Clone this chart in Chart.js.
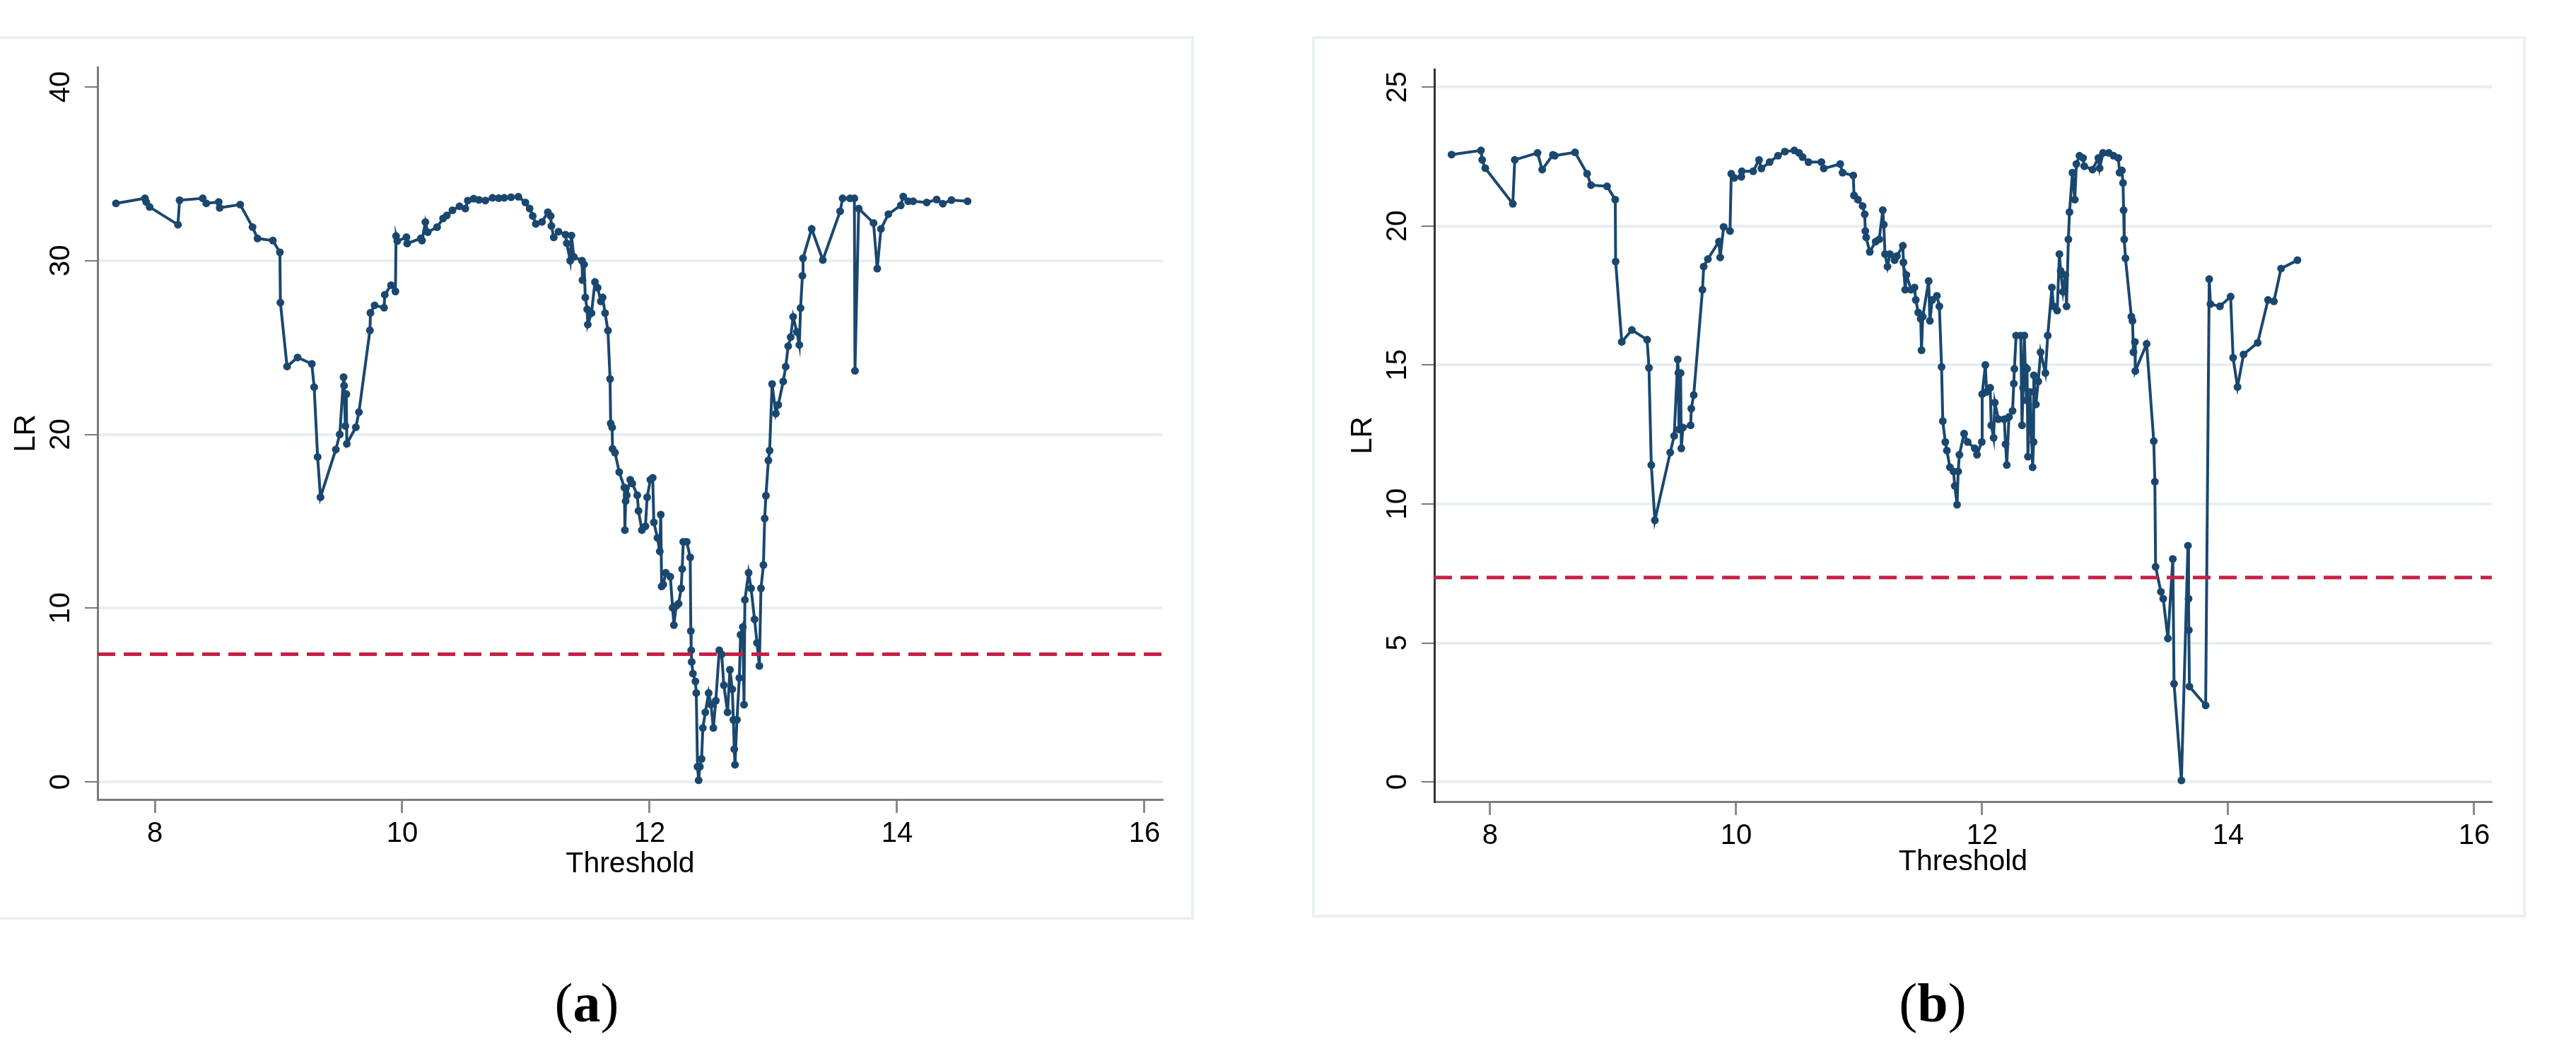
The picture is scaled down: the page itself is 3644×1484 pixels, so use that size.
<!DOCTYPE html>
<html>
<head>
<meta charset="utf-8">
<script src="https://cdn.jsdelivr.net/npm/chart.js@4.4.1/dist/chart.umd.min.js"></script>
<style>
  html, body { margin: 0; padding: 0; background: #fff; }
  body { position: relative; width: 3644px; height: 1484px; overflow: hidden; }
  .frame { position: absolute; border: 4px solid #e8f0f2; box-sizing: border-box; }
  canvas { position: absolute; }
  .tag { position: absolute; width: 240px; text-align: center; font-family: "Liberation Serif", "Times New Roman", serif; font-size: 78px; line-height: 78px; color: #000; }
  .tag b { font-weight: bold; }
</style>
</head>
<body>
<div class="frame" style="left:-33px; top:51px; width:1722px; height:1250px;"></div>
<div class="frame" style="left:1856px; top:51px; width:1717px; height:1247px;"></div>
<canvas id="chartA" width="1722" height="1249" style="left:-33px; top:51px;"></canvas>
<canvas id="chartB" width="1713" height="1245" style="left:1858px; top:52px;"></canvas>
<div class="tag" style="left:710px; top:1380px;">(<b>a</b>)</div>
<div class="tag" style="left:2614px; top:1380px;">(<b>b</b>)</div>

<script>
// threshold values and LR statistic, panel (a)
const PANEL_A_X = [
  7.686, 7.92, 7.93, 7.958, 8.187, 8.20, 8.387, 8.416, 8.516, 8.524, 8.69, 8.79, 8.83, 8.954,
  9.011, 9.015, 9.069, 9.154, 9.269, 9.288, 9.316, 9.339, 9.463, 9.495, 9.526, 9.53, 9.54, 9.548,
  9.552, 9.625, 9.65, 9.739, 9.743, 9.777, 9.853, 9.859, 9.91, 9.945, 9.95, 9.96, 10.034, 10.04,
  10.15, 10.16, 10.187, 10.206, 10.282, 10.33, 10.36, 10.406, 10.463, 10.51, 10.53, 10.577, 10.62,
  10.672, 10.73, 10.78, 10.825, 10.88, 10.939, 10.996, 11.03, 11.055, 11.08, 11.13, 11.177, 11.2,
  11.206, 11.225, 11.263, 11.32, 11.33, 11.358, 11.368, 11.387, 11.453, 11.457, 11.47, 11.48,
  11.495, 11.5, 11.53, 11.558, 11.58, 11.605, 11.62, 11.64, 11.663, 11.68, 11.685, 11.697, 11.7,
  11.72, 11.754, 11.796, 11.8, 11.806, 11.815, 11.843, 11.86, 11.9, 11.91, 11.937, 11.966, 11.98,
  12.006, 12.025, 12.034, 12.063, 12.082, 12.09, 12.097, 12.11, 12.13, 12.167, 12.186, 12.196,
  12.215, 12.234, 12.255, 12.263, 12.272, 12.3, 12.328, 12.333, 12.336, 12.34, 12.35, 12.37,
  12.377, 12.387, 12.396, 12.406, 12.42, 12.43, 12.45, 12.477, 12.496, 12.515, 12.535, 12.563,
  12.582, 12.6, 12.63, 12.649, 12.668, 12.677, 12.684, 12.69, 12.706, 12.725, 12.735, 12.753,
  12.763, 12.77, 12.8, 12.82, 12.848, 12.868, 12.887, 12.9, 12.92, 12.93, 12.94, 12.96, 12.97,
  12.99, 13.02, 13.04, 13.08, 13.1, 13.12, 13.14, 13.16, 13.19, 13.21, 13.22, 13.235, 13.24,
  13.31, 13.4, 13.54, 13.56, 13.62, 13.655, 13.66, 13.69, 13.81, 13.84, 13.87, 13.93, 14.03,
  14.05, 14.09, 14.13, 14.24, 14.32, 14.37, 14.44, 14.57
];
const PANEL_A_LR = [
  33.30, 33.59, 33.38, 33.09, 32.07, 33.48, 33.59, 33.30, 33.38, 33.04, 33.23, 31.93, 31.28, 31.16,
  30.48, 27.58, 23.91, 24.43, 24.06, 22.72, 18.70, 16.38, 19.13, 20.0, 23.30, 22.80, 20.48, 22.32,
  19.46, 20.41, 21.28, 25.99, 27.0, 27.43, 27.29, 28.04, 28.59, 28.23, 31.42, 31.13, 31.35, 30.99,
  31.28, 31.16, 32.22, 31.64, 31.93, 32.43, 32.6, 32.9, 33.13, 33.0, 33.46, 33.57, 33.5,
  33.46, 33.62, 33.6, 33.62, 33.65, 33.68, 33.35, 33.0, 32.57, 32.12, 32.23, 32.79, 32.57,
  32.0, 31.34, 31.67, 31.5, 31.0, 30.0, 31.45, 30.22, 30.0, 28.88, 29.78, 27.88,
  27.2, 26.32, 26.98, 28.77, 28.44, 27.66, 27.88, 26.98, 25.98, 23.19, 20.63, 20.4, 19.17,
  18.95, 17.83, 16.94, 14.49, 16.16, 16.5, 17.39, 17.17, 16.5, 15.6, 14.49, 14.71, 16.38,
  17.39, 17.5, 14.93, 14.04, 13.26, 15.38, 11.25, 11.36, 12.03, 11.81, 10.02, 9.02,
  10.13, 10.25, 11.14, 12.25, 13.82, 13.82, 12.92, 8.68, 7.57, 6.9, 6.23, 5.78,
  5.11, 0.87, 0.09, 0.87, 1.32, 3.1, 4.0, 5.11, 4.44, 3.1, 4.67, 7.57,
  7.34, 5.56, 4.0, 6.45, 5.33, 3.57, 1.88, 0.98, 3.57, 5.98, 8.46, 8.91,
  4.44, 10.47, 12.03, 11.14, 9.35, 8.0, 6.67, 11.14, 12.48, 15.16, 16.47, 18.5, 19.07,
  22.9, 21.2, 21.7, 23.05, 23.9, 25.08, 25.6, 26.77, 25.9, 25.15, 27.27, 29.13, 30.14,
  31.83, 30.04, 32.84, 33.59, 33.59, 33.59, 23.66, 33.0, 32.17, 29.54, 31.83, 32.68, 33.18,
  33.69, 33.42, 33.42, 33.35, 33.52, 33.28, 33.49, 33.42
];

// threshold values and LR statistic, panel (b)
const PANEL_B_X = [
  7.686, 7.925, 7.935, 7.96, 8.184, 8.2, 8.385, 8.423, 8.51, 8.525, 8.69, 8.788, 8.82, 8.95,
  9.017, 9.02, 9.07, 9.152, 9.276, 9.291, 9.31, 9.339, 9.464, 9.496, 9.525, 9.53, 9.535, 9.548,
  9.554, 9.567, 9.63, 9.635, 9.655, 9.726, 9.736, 9.77, 9.86, 9.87, 9.898, 9.95, 9.96, 9.985,
  10.042, 10.046, 10.138, 10.186, 10.205, 10.272, 10.34, 10.396, 10.473, 10.511, 10.54, 10.588,
  10.693, 10.712, 10.846, 10.865, 10.952, 10.958, 10.99, 11.028, 11.045, 11.05, 11.057, 11.086,
  11.134, 11.163, 11.192, 11.2, 11.21, 11.23, 11.25, 11.288, 11.307, 11.355, 11.36, 11.374,
  11.384, 11.422, 11.45, 11.46, 11.48, 11.5, 11.507, 11.517, 11.565, 11.575, 11.594, 11.632,
  11.652, 11.67, 11.68, 11.7, 11.713, 11.738, 11.767, 11.777, 11.796, 11.805, 11.815, 11.853,
  11.882, 11.94, 11.958, 11.997, 12.0, 12.026, 12.036, 12.065, 12.074, 12.093, 12.103, 12.132,
  12.18, 12.19, 12.2, 12.218, 12.247, 12.257, 12.262, 12.276, 12.314, 12.324, 12.333, 12.343,
  12.35, 12.36, 12.365, 12.372, 12.39, 12.41, 12.418, 12.42, 12.437, 12.456, 12.475, 12.514,
  12.533, 12.567, 12.58, 12.61, 12.628, 12.638, 12.657, 12.676, 12.686, 12.701, 12.71, 12.734,
  12.753, 12.766, 12.791, 12.82, 12.83, 12.897, 12.945, 12.955, 12.983, 13.03, 13.068, 13.107,
  13.117, 13.136, 13.145, 13.15, 13.155, 13.165, 13.213, 13.222, 13.23, 13.242, 13.245, 13.337,
  13.395, 13.404, 13.41, 13.453, 13.472, 13.51, 13.55, 13.56, 13.62, 13.673, 13.678, 13.68,
  13.685, 13.817, 13.846, 13.856, 13.933, 14.02, 14.04, 14.076, 14.125, 14.24, 14.324, 14.372,
  14.43, 14.563
];
const PANEL_B_LR = [
  22.57, 22.72, 22.38, 22.08, 20.8, 22.38, 22.63, 22.03, 22.56, 22.53, 22.65, 21.88, 21.47, 21.43,
  20.95, 18.72, 15.83, 16.26, 15.91, 14.9, 11.4, 9.41, 11.85, 12.45, 15.2, 14.71, 12.68, 14.71,
  12.0, 12.75, 12.83, 13.43, 13.92, 17.71, 18.54, 18.81, 19.44, 18.87, 19.97, 19.82, 21.88, 21.73,
  21.77, 21.97, 21.97, 22.38, 22.07, 22.3, 22.53, 22.68, 22.72, 22.63, 22.48, 22.3,
  22.3, 22.07, 22.23, 21.92, 21.82, 21.1, 20.95, 20.72, 20.42, 19.82, 19.59, 19.07,
  19.44, 19.52, 20.57, 20.05, 18.99, 18.54, 18.99, 18.77, 18.92, 19.29, 18.69, 17.71,
  18.24, 17.71, 17.79, 17.34, 16.89, 16.66, 15.53, 16.74, 18.02, 16.59, 17.34, 17.49,
  17.11, 14.93, 12.98, 12.23, 11.92, 11.32, 11.17, 10.65, 9.97, 11.17, 11.77, 12.53,
  12.23, 12.0, 11.77, 12.23, 13.95, 15.0, 14.03, 14.18, 12.83, 12.38, 13.65, 13.05,
  13.05, 12.15, 11.4, 13.13, 13.35, 14.33, 14.86, 16.06, 16.06, 12.83, 14.18, 16.06,
  14.93, 13.73, 14.86, 11.7, 14.03, 11.32, 12.23, 14.63, 13.58, 14.41, 15.46, 14.71,
  16.06, 17.79, 17.11, 16.96, 18.99, 18.39, 17.64, 18.24, 17.11, 19.52, 20.5, 21.92,
  20.95, 22.23, 22.53, 22.45, 22.15, 22.03, 22.45, 22.08, 22.63, 22.63, 22.53, 22.45,
  21.92, 22.0, 21.55, 20.57, 19.52, 18.84, 16.74, 16.59, 15.46, 15.83, 14.78, 15.76,
  12.26, 10.8, 7.74, 6.84, 6.59, 5.16, 8.02, 3.53, 0.05, 8.5, 6.59, 5.46,
  3.43, 2.75, 18.09, 17.19, 17.11, 17.46, 15.26, 14.21, 15.38, 15.8, 17.34, 17.29,
  18.47, 18.77
];

const X_TICKS = [8, 10, 12, 14, 16];
const PANEL_A_Y_TICKS = [0, 10, 20, 30, 40];
const PANEL_B_Y_TICKS = [0, 5, 10, 15, 20, 25];
const CRIT_VALUE = 7.35;   // critical value (dashed line)

const NAVY = "#1a476f";
const CRIMSON = "#c81f45";
const GRID = "#e6eff1";
const AXIS = "#7b7b7b";

Chart.defaults.font.family = '"Liberation Sans", Arial, sans-serif';
Chart.defaults.color = "#000";

function makeChart(id, xs, ys, yTicks, p) {
  const pts = xs.map((x, i) => ({ x: x, y: ys[i] }));
  return new Chart(document.getElementById(id), {
    type: "line",
    data: {
      datasets: [
        {
          // critical value across the full x range
          data: [{ x: p.xMin, y: CRIT_VALUE }, { x: p.xMax, y: CRIT_VALUE }],
          borderColor: CRIMSON,
          borderWidth: 5,
          borderDash: [25, 12],
          pointRadius: 0,
          fill: false
        },
        {
          data: pts,
          borderColor: NAVY,
          borderWidth: 4,
          pointRadius: 5.5,
          pointBackgroundColor: NAVY,
          pointBorderWidth: 0,
          tension: 0,
          fill: false
        }
      ]
    },
    options: {
      responsive: false,
      animation: false,
      events: [],
      layout: { padding: { left: 0, right: p.padRight, top: p.padTop, bottom: 0 } },
      plugins: { legend: { display: false }, tooltip: { enabled: false } },
      scales: {
        x: {
          type: "linear",
          min: p.xMin,
          max: p.xMax,
          afterBuildTicks: (s) => { s.ticks = X_TICKS.map(v => ({ value: v })); },
          afterFit: (s) => { s.height = p.xHeight; },
          grid: { drawOnChartArea: false, drawTicks: true, tickLength: 19, tickColor: "#8a8a8a", tickWidth: 3 },
          border: { display: true, color: AXIS, width: 3 },
          ticks: { font: { size: 40 }, color: "#000", padding: 6, maxRotation: 0 },
          title: { display: true, text: "Threshold", font: { size: 41 }, color: "#000", padding: { top: 0, bottom: 53 } }
        },
        y: {
          type: "linear",
          min: p.yMin,
          max: p.yMax,
          afterBuildTicks: (s) => { s.ticks = yTicks.map(v => ({ value: v })); },
          afterFit: (s) => { s.width = 171; },
          grid: {
            color: (c) => (c.tick && c.tick.value === p.noGridAt) ? "rgba(0,0,0,0)" : GRID,
            lineWidth: 4,
            drawTicks: true,
            tickLength: 18,
            tickColor: "#7a7a7a",
            tickWidth: 2
          },
          border: { display: true, color: p.yAxisColor, width: 3 },
          ticks: { font: { size: 40 }, color: "#000", padding: 11, minRotation: 90, maxRotation: 90, crossAlign: "center" },
          title: { display: true, text: "LR", font: { size: 42 }, color: "#000", padding: { top: 45, bottom: 0 } }
        }
      }
    }
  });
}

document.addEventListener("DOMContentLoaded", function () {
  makeChart("chartA", PANEL_A_X, PANEL_A_LR, PANEL_A_Y_TICKS, {
    xMin: 7.537, xMax: 16.149, yMin: -1.017, yMax: 41.14,
    padRight: 44, padTop: 44, xHeight: 169, noGridAt: 40, yAxisColor: AXIS
  });
  makeChart("chartB", PANEL_B_X, PANEL_B_LR, PANEL_B_Y_TICKS, {
    xMin: 7.546, xMax: 16.144, yMin: -0.71, yMax: 25.64,
    padRight: 46, padTop: 46, xHeight: 163, noGridAt: null, yAxisColor: "#333"
  });
});
</script>
</body>
</html>
